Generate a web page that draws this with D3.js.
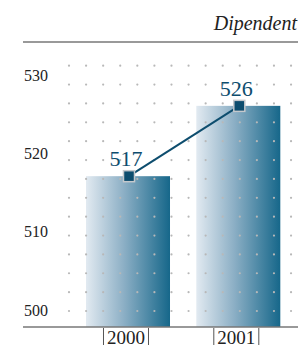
<!DOCTYPE html>
<html>
<head>
<meta charset="utf-8">
<script src="https://cdn.jsdelivr.net/npm/d3@7"></script>
<style>
  body { margin: 0; background: #fff; }
</style>
</head>
<body>
<div id="chart"></div>
<script>
var svgWidth = 298;
var svgHeight = 347;
var serif = "'Liberation Serif', 'Times New Roman', Times, 'DejaVu Serif', serif";

// data
var years = ["2000", "2001"];
var values = [517, 526];
var yTicks = [500, 510, 520, 530];
var title = "Dipendent";

var svg = d3.select("#chart")
  .append("svg")
  .attr("width", svgWidth)
  .attr("height", svgHeight)
  .style("font-family", serif);

// scales
var x = d3.scaleBand()
  .domain(years)
  .range([59.7, 306.6])
  .padding(0.2384);

var y = d3.scaleLinear()
  .domain([497.7, 530])
  .range([327, 74.6]);

// gradient for bars
var defs = svg.append("defs");
var grad = defs.append("linearGradient")
  .attr("id", "barGrad")
  .attr("x1", "0%").attr("x2", "100%")
  .attr("y1", "0%").attr("y2", "0%");
grad.append("stop").attr("offset", "0%").attr("stop-color", "#e2eaf1");
grad.append("stop").attr("offset", "45%").attr("stop-color", "#8cafc5");
grad.append("stop").attr("offset", "100%").attr("stop-color", "#16678a");

// title + top rule
svg.append("text")
  .attr("x", 297)
  .attr("y", 30)
  .attr("text-anchor", "end")
  .attr("font-family", serif)
  .attr("font-size", "20px")
  .attr("font-style", "italic")
  .attr("fill", "#222")
  .text(title);

svg.append("line")
  .attr("x1", 23).attr("x2", 298)
  .attr("y1", 42).attr("y2", 42)
  .attr("stroke", "#777")
  .attr("stroke-width", 1.5);

// bars
svg.selectAll(".bar")
  .data(values)
  .enter()
  .append("rect")
  .attr("class", "bar")
  .attr("x", (d, i) => x(years[i]))
  .attr("y", d => y(d))
  .attr("width", x.bandwidth())
  .attr("height", d => y.range()[0] - y(d))
  .attr("fill", "url(#barGrad)");

// dot pattern grid (decorative)
var dotX = d3.range(69, 295, 17.08);
var dotY = d3.range(65.7, 314, 18.87);
var dots = svg.append("g");
dotY.forEach(function(yy) {
  dotX.forEach(function(xx) {
    dots.append("circle")
      .attr("cx", xx)
      .attr("cy", yy)
      .attr("r", 1.1)
      .attr("fill", "#b8b8b8");
  });
});

// y tick labels
svg.selectAll(".ylab")
  .data(yTicks)
  .enter()
  .append("text")
  .attr("class", "ylab")
  .attr("x", 24)
  .attr("y", d => y(d) + 1)
  .attr("dy", "0.35em")
  .attr("font-family", serif)
  .attr("font-size", "16px")
  .attr("fill", "#222")
  .text(d => d);

// bottom axis
svg.append("line")
  .attr("x1", 23).attr("x2", 298)
  .attr("y1", 327).attr("y2", 327)
  .attr("stroke", "#777")
  .attr("stroke-width", 1.5);

var xl = svg.selectAll(".xlab")
  .data(years)
  .enter()
  .append("g")
  .attr("transform", d => `translate(${x(d) + x.bandwidth() / 2 - 2}, 0)`);

xl.append("text")
  .attr("x", 0)
  .attr("y", 344)
  .attr("text-anchor", "middle")
  .attr("font-family", serif)
  .attr("font-size", "19px")
  .attr("fill", "#222")
  .text(d => d);

xl.append("line")
  .attr("x1", -22.5).attr("x2", -22.5)
  .attr("y1", 328).attr("y2", 345)
  .attr("stroke", "#555").attr("stroke-width", 1);
xl.append("line")
  .attr("x1", 22.5).attr("x2", 22.5)
  .attr("y1", 328).attr("y2", 345)
  .attr("stroke", "#555").attr("stroke-width", 1);

// line + markers
var line = d3.line()
  .x((d, i) => x(years[i]) + x.bandwidth() / 2 + 1)
  .y(d => y(d));

svg.append("path")
  .datum(values)
  .attr("d", line)
  .attr("fill", "none")
  .attr("stroke", "#0d4d6e")
  .attr("stroke-width", 2);

svg.selectAll(".marker")
  .data(values)
  .enter()
  .append("rect")
  .attr("class", "marker")
  .attr("x", (d, i) => x(years[i]) + x.bandwidth() / 2 + 1 - 5.5)
  .attr("y", d => y(d) - 5.5)
  .attr("width", 11)
  .attr("height", 11)
  .attr("fill", "#0d4d6e")
  .attr("stroke", "#c4c8cc")
  .attr("stroke-width", 1.5);

// value labels
svg.selectAll(".vlab")
  .data(values)
  .enter()
  .append("text")
  .attr("class", "vlab")
  .attr("x", (d, i) => x(years[i]) + x.bandwidth() / 2 - 2)
  .attr("y", d => y(d) - 10)
  .attr("text-anchor", "middle")
  .attr("font-family", serif)
  .attr("font-size", "22px")
  .attr("fill", "#0d4d6e")
  .text(d => d);
</script>
</body>
</html>
